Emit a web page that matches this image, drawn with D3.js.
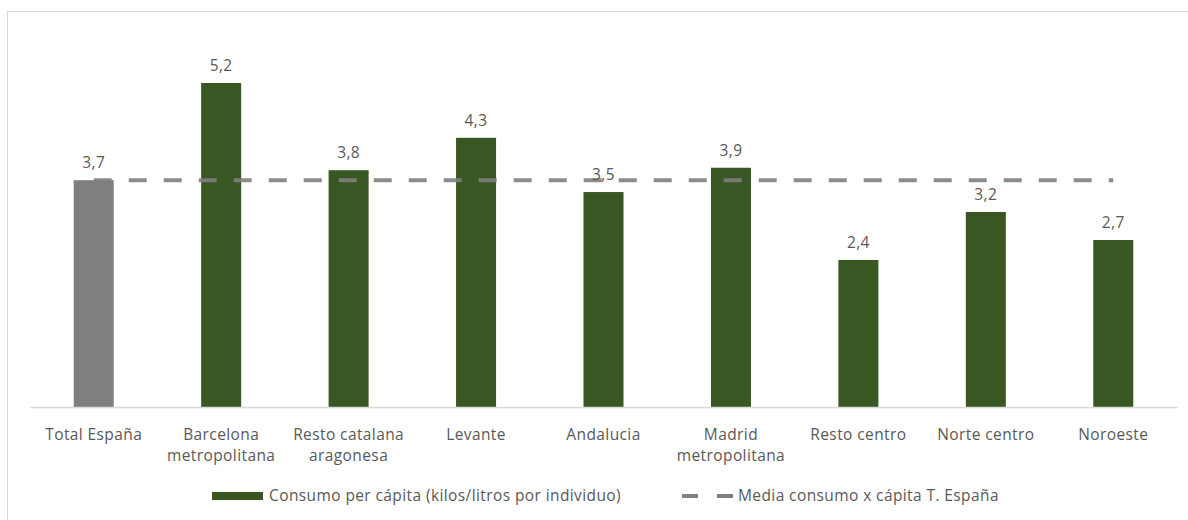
<!DOCTYPE html>
<html><head><meta charset="utf-8">
<script src="https://cdn.jsdelivr.net/npm/d3@7"></script>
<style>
html,body{margin:0;padding:0;background:#fff;}
text{font-family:"Open Sans","Noto Sans",sans-serif;letter-spacing:0.4px;}
</style></head>
<body><svg id="c" width="1188" height="520"></svg>
<script>
const categories = [["Total España"],["Barcelona","metropolitana"],["Resto catalana","aragonesa"],["Levante"],["Andalucia"],["Madrid","metropolitana"],["Resto centro"],["Norte centro"],["Noroeste"]];
const values = [3.64, 5.2, 3.8, 4.32, 3.45, 3.84, 2.36, 3.13, 2.68];
const valueLabels = ["3,7","5,2","3,8","4,3","3,5","3,9","2,4","3,2","2,7"];
const meanValue = 3.64;
const legendLabels = ["Consumo per cápita (kilos/litros por individuo)","Media consumo x cápita T. España"];

const svg = d3.select("#c");
const plotTop = 83, baseY = 407;
const FS = 15.5;

svg.append("rect").attr("x",7.5).attr("y",11.5).attr("width",1190).attr("height",520)
  .attr("fill","#fff").attr("stroke","#d9d9d9").attr("stroke-width",1);

const idx = d3.range(categories.length);
const x = d3.scaleBand().domain(idx).range([30, 1177]).paddingInner(0.686).paddingOuter(0.343);
const y = d3.scaleLinear().domain([0, 5.2]).range([baseY, plotTop]);
const cx = i => x(i) + x.bandwidth()/2;

svg.append("g").selectAll("rect").data(idx).join("rect")
  .attr("x", i => x(i)).attr("width", x.bandwidth())
  .attr("y", i => y(values[i])).attr("height", i => baseY - y(values[i]))
  .attr("fill", i => i === 0 ? "#7f7f7f" : "#385723");

const ax = svg.append("g").attr("transform", `translate(0,${baseY})`)
  .call(d3.axisBottom(x).tickSize(0).tickFormat(""));
ax.select(".domain").attr("stroke","#d9d9d9").attr("stroke-width",1.5);

const lab = svg.append("g").selectAll("text").data(idx).join("text")
  .attr("x", cx).attr("y", 440)
  .attr("text-anchor","middle").attr("fill","#595959").attr("font-size",FS);
lab.each(function(i){
  const t = d3.select(this);
  categories[i].forEach((line,k)=>{
    t.append("tspan").attr("x", cx(i)).attr("dy", k===0?0:21).text(line);
  });
});

svg.append("line").attr("x1", cx(0)).attr("x2", cx(categories.length-1))
  .attr("y1", y(meanValue)).attr("y2", y(meanValue))
  .attr("stroke","#808080").attr("stroke-width",4).attr("stroke-dasharray","18,17")
  .attr("opacity",0.9);

svg.append("g").selectAll("text").data(idx).join("text")
  .attr("x", cx).attr("y", i => y(values[i]) - 12)
  .attr("text-anchor","middle").attr("fill","#595959").attr("font-size",FS)
  .text(i => valueLabels[i]);

const lg = svg.append("g");
lg.append("rect").attr("x",212).attr("y",492).attr("width",51).attr("height",8).attr("fill","#385723");
lg.append("text").attr("x",269).attr("y",501).attr("fill","#595959").attr("font-size",FS).text(legendLabels[0]);
lg.append("line").attr("x1",682).attr("x2",733).attr("y1",496).attr("y2",496)
  .attr("stroke","#808080").attr("stroke-width",4).attr("stroke-dasharray","16,19");
lg.append("text").attr("x",738).attr("y",501).attr("fill","#595959").attr("font-size",FS).text(legendLabels[1]);
</script></body></html>
